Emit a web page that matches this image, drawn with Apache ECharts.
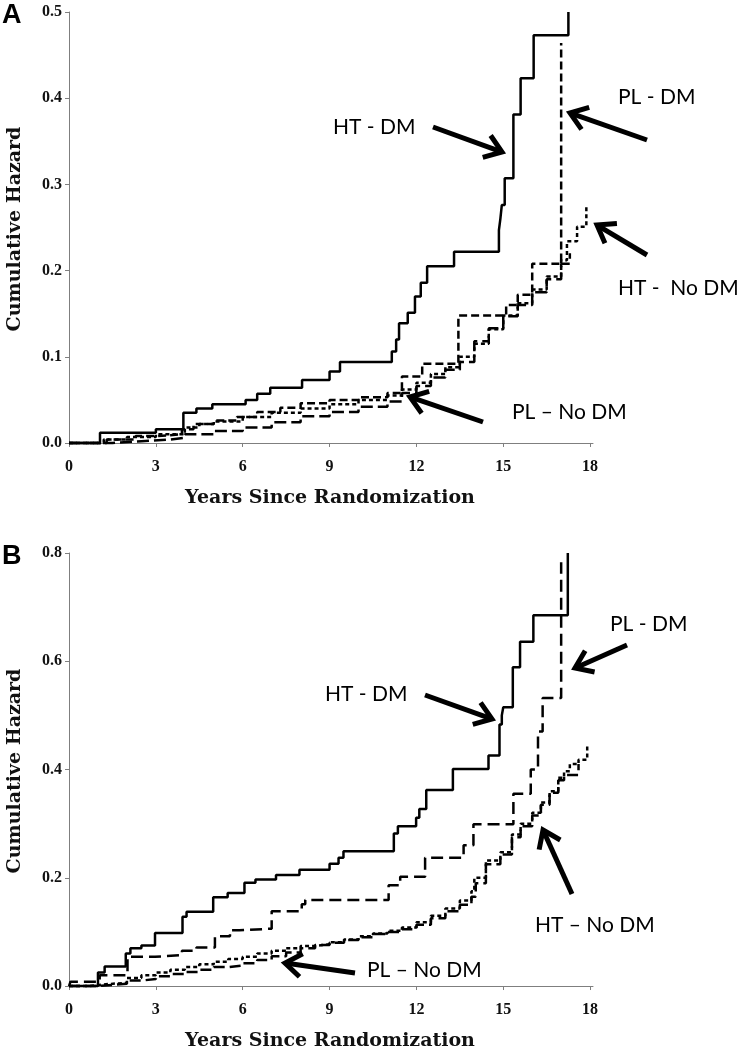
<!DOCTYPE html>
<html>
<head>
<meta charset="utf-8">
<script src="https://cdn.jsdelivr.net/npm/echarts@6/dist/echarts.min.js"></script>
<style>
html,body{margin:0;padding:0;background:#fff;}
#chart{width:745px;height:1050px;}
</style>
</head>
<body>
<div id="chart"></div>
<script>
// ---------- DATA ----------
const xTicks = [0, 3, 6, 9, 12, 15, 18];
const yTicksA = [0, 0.1, 0.2, 0.3, 0.4, 0.5];
const yTicksB = [0, 0.2, 0.4, 0.6, 0.8];

// Panel A
const aHtDmT = [0,1.07,3.0,3.95,4.4,4.95,6.1,6.5,6.95,8.05,9.0,9.36,11.15,11.3,11.4,11.7,11.95,12.15,12.37,13.3,14.85,14.9,14.95,15.05,15.35,15.6,16.05,17.25];
const aHtDmH = [0,0.012,0.016,0.035,0.040,0.045,0.050,0.057,0.064,0.073,0.083,0.094,0.106,0.120,0.139,0.151,0.170,0.186,0.205,0.222,0.247,0.260,0.276,0.307,0.381,0.423,0.473,0.500];

const aPlDmT = [0,1.3,2.3,3.0,3.9,4.3,5.0,5.8,6.5,7.3,8.0,9.0,10.0,11.0,11.5,12.2,13.45,15.1,15.5,16.0,17.0];
const aPlDmH = [0,0.004,0.008,0.010,0.016,0.022,0.026,0.030,0.036,0.041,0.046,0.050,0.053,0.058,0.077,0.092,0.148,0.160,0.172,0.208,0.464];

const aHtNoT = [0,1.2,2.0,3.0,4.0,4.5,5.0,6.0,7.0,8.0,9.0,10.0,11.0,11.5,12.0,12.5,13.0,13.5,14.0,14.5,15.0,15.5,16.0,16.5,17.0,17.2,17.55,17.87];
const aHtNoH = [0,0.004,0.007,0.010,0.018,0.022,0.025,0.030,0.035,0.040,0.045,0.050,0.055,0.062,0.070,0.080,0.088,0.100,0.115,0.132,0.148,0.162,0.178,0.193,0.212,0.234,0.251,0.275];

const aPlNoT = [0,1.5,2.5,3.5,4.0,5.0,6.0,7.0,8.0,9.0,10.0,11.0,11.5,12.0,12.5,13.0,13.5,14.0,14.5,15.0,15.5,16.0,16.5,17.0,17.3];
const aPlNoH = [0,0.002,0.004,0.006,0.010,0.014,0.018,0.024,0.031,0.036,0.042,0.048,0.058,0.066,0.076,0.085,0.094,0.118,0.133,0.147,0.160,0.175,0.190,0.208,0.220];

// Panel B
const bHtDmT = [0,1.0,1.23,1.96,2.12,2.5,2.97,3.92,4.06,4.98,5.48,6.06,6.44,7.15,7.96,9.0,9.31,9.48,11.22,11.36,11.99,12.1,12.34,13.26,14.49,14.87,14.95,15.0,15.33,15.58,16.04,17.23];
const bHtDmH = [0,0.025,0.036,0.060,0.070,0.075,0.098,0.128,0.137,0.164,0.172,0.191,0.197,0.205,0.215,0.226,0.237,0.249,0.282,0.295,0.311,0.327,0.362,0.401,0.426,0.483,0.500,0.515,0.589,0.636,0.685,0.800];

const bPlDmT = [0,0.05,1.06,2.02,2.97,3.9,4.4,5.04,5.56,5.88,7.0,8.04,8.16,11.04,11.44,12.3,13.63,13.97,15.35,15.95,16.2,16.36,17.0];
const bPlDmH = [0,0.008,0.020,0.054,0.057,0.065,0.071,0.092,0.103,0.106,0.138,0.151,0.159,0.186,0.202,0.237,0.260,0.299,0.355,0.400,0.470,0.532,0.783];

const bHtNoT = [0,0.7,1.2,2.0,2.5,3.0,3.5,4.0,4.5,5.0,5.5,6.0,6.5,7.0,7.5,8.0,8.5,9.0,9.5,10.0,10.5,11.0,11.5,12.0,12.5,13.0,13.5,13.9,14.0,14.4,14.9,15.3,15.6,16.0,16.3,16.6,16.9,17.1,17.3,17.6,17.9];
const bHtNoH = [0,0.003,0.006,0.015,0.020,0.025,0.030,0.035,0.040,0.045,0.050,0.054,0.060,0.065,0.070,0.074,0.077,0.081,0.086,0.092,0.097,0.102,0.108,0.118,0.130,0.143,0.158,0.175,0.200,0.232,0.247,0.280,0.300,0.320,0.339,0.360,0.385,0.397,0.410,0.418,0.447];

const bPlNoT = [0,1.0,1.5,2.0,2.5,3.0,3.5,4.0,4.5,5.0,5.5,6.0,6.5,7.0,7.5,8.0,8.5,9.0,9.5,10.0,10.5,11.0,11.5,12.0,12.5,13.0,13.5,13.9,14.05,14.4,14.9,15.3,15.6,16.0,16.3,16.6,16.9,17.1,17.6];
const bPlNoH = [0,0.002,0.004,0.010,0.013,0.018,0.022,0.026,0.030,0.035,0.038,0.042,0.048,0.055,0.062,0.070,0.076,0.080,0.085,0.090,0.096,0.100,0.105,0.113,0.125,0.138,0.150,0.165,0.190,0.225,0.243,0.275,0.295,0.315,0.335,0.357,0.380,0.390,0.410];

// ---------- CHART ----------
const pairs = (t, h) => t.map((v, i) => [v, h[i]]);
const axisGray = '#7f7f7f';
const tickFont = { fontFamily: 'Liberation Serif', fontWeight: 'bold', fontSize: 16, color: '#111' };

function xAxisFor(grid) {
  return {
    type: 'value', gridIndex: grid, min: -0.07, max: 18.1,
    name: 'Years Since Randomization', nameLocation: 'middle', nameGap: 43,
    nameTextStyle: { fontFamily: 'DejaVu Serif', fontWeight: 'bold', fontSize: 19, color: '#111' },
    axisLine: { show: true, lineStyle: { color: axisGray, width: 1 } },
    axisTick: { show: true, length: 4, lineStyle: { color: axisGray }, customValues: xTicks },
    axisLabel: Object.assign({ customValues: xTicks, margin: 13 }, tickFont),
    splitLine: { show: false }
  };
}
function yAxisFor(grid, ticks, min, max) {
  return {
    type: 'value', gridIndex: grid, min: min, max: max,
    name: 'Cumulative Hazard', nameLocation: 'middle', nameGap: 42, nameRotate: 90,
    nameTextStyle: { fontFamily: 'DejaVu Serif', fontWeight: 'bold', fontSize: 19, color: '#111' },
    axisLine: { show: true, lineStyle: { color: axisGray, width: 1 } },
    axisTick: { show: true, length: 4, lineStyle: { color: axisGray }, customValues: ticks },
    axisLabel: Object.assign({ customValues: ticks, margin: 5, formatter: v => v.toFixed(1) }, tickFont),
    splitLine: { show: false }
  };
}
function curve(name, grid, data, dash) {
  return {
    name: name, type: 'line', xAxisIndex: grid, yAxisIndex: grid,
    data: data, step: 'end', showSymbol: false, symbol: 'none', silent: true,
    lineStyle: { color: '#000', width: 2.5, type: dash, cap: 'butt' },
    z: 3
  };
}

// Annotations (pixel layout)
const annotations = [
  { text: 'HT - DM',      x: 333, y: 127, tail: [433,127], tip: [502,152] },
  { text: 'PL - DM',      x: 618, y: 97,  tail: [647,140], tip: [570,113] },
  { text: 'HT -  No DM',  x: 618, y: 288, tail: [647,255], tip: [597,225] },
  { text: 'PL \u2013 No DM', x: 512, y: 412, tail: [483,422], tip: [410,397] },
  { text: 'PL - DM',      x: 610, y: 624, tail: [627,645], tip: [575,668] },
  { text: 'HT - DM',      x: 325, y: 694, tail: [425,695], tip: [492,719] },
  { text: 'HT \u2013 No DM', x: 535, y: 925, tail: [572,894], tip: [543,830] },
  { text: 'PL \u2013 No DM', x: 367, y: 970, tail: [355,973], tip: [285,963] }
];

const graphics = [
  { type: 'text', left: 2, top: 2, style: { text: 'A', font: 'bold 27px "Liberation Sans"', fill: '#000' } },
  { type: 'text', left: 2, top: 543, style: { text: 'B', font: 'bold 27px "Liberation Sans"', fill: '#000' } }
];
annotations.forEach(a => {
  graphics.push({ type: 'text', x: a.x, y: a.y,
    style: { text: a.text, font: '21px Lato', fill: '#000', textAlign: 'left', textVerticalAlign: 'middle', verticalAlign: 'middle' } });
  const dx = a.tip[0] - a.tail[0], dy = a.tip[1] - a.tail[1];
  const ang = Math.atan2(dy, dx), L = 20, spread = 0.62;
  const w1 = [a.tip[0] - L * Math.cos(ang - spread), a.tip[1] - L * Math.sin(ang - spread)];
  const w2 = [a.tip[0] - L * Math.cos(ang + spread), a.tip[1] - L * Math.sin(ang + spread)];
  graphics.push({ type: 'line', shape: { x1: a.tail[0], y1: a.tail[1], x2: a.tip[0] - 2 * Math.cos(ang), y2: a.tip[1] - 2 * Math.sin(ang) },
    style: { stroke: '#000', lineWidth: 5 } });
  graphics.push({ type: 'polyline', shape: { points: [w1, a.tip, w2] },
    style: { stroke: '#000', lineWidth: 5, fill: null, lineJoin: 'miter' } });
});

const chart = echarts.init(document.getElementById('chart'), null, { renderer: 'canvas' });
chart.setOption({
  backgroundColor: '#fff',
  animation: false,
  grid: [
    { left: 67, top: 12, width: 526, height: 434, outerBoundsMode: 'none', containLabel: false },
    { left: 67, top: 553, width: 526, height: 436, outerBoundsMode: 'none', containLabel: false }
  ],
  xAxis: [xAxisFor(0), xAxisFor(1)],
  yAxis: [yAxisFor(0, yTicksA, -0.0035, 0.5), yAxisFor(1, yTicksB, -0.0055, 0.8)],
  series: [
    curve('HT - DM', 0, pairs(aHtDmT, aHtDmH), 'solid'),
    curve('PL - DM', 0, pairs(aPlDmT, aPlDmH), [8, 4]),
    curve('HT - No DM', 0, pairs(aHtNoT, aHtNoH), [4, 3]),
    curve('PL - No DM', 0, pairs(aPlNoT, aPlNoH), [12, 5]),
    curve('HT - DM', 1, pairs(bHtDmT, bHtDmH), 'solid'),
    curve('PL - DM', 1, pairs(bPlDmT, bPlDmH), [12, 6]),
    curve('HT - No DM', 1, pairs(bHtNoT, bHtNoH), [4, 3]),
    curve('PL - No DM', 1, pairs(bPlNoT, bPlNoH), [11, 5])
  ],
  graphic: graphics
});
</script>
</body>
</html>
